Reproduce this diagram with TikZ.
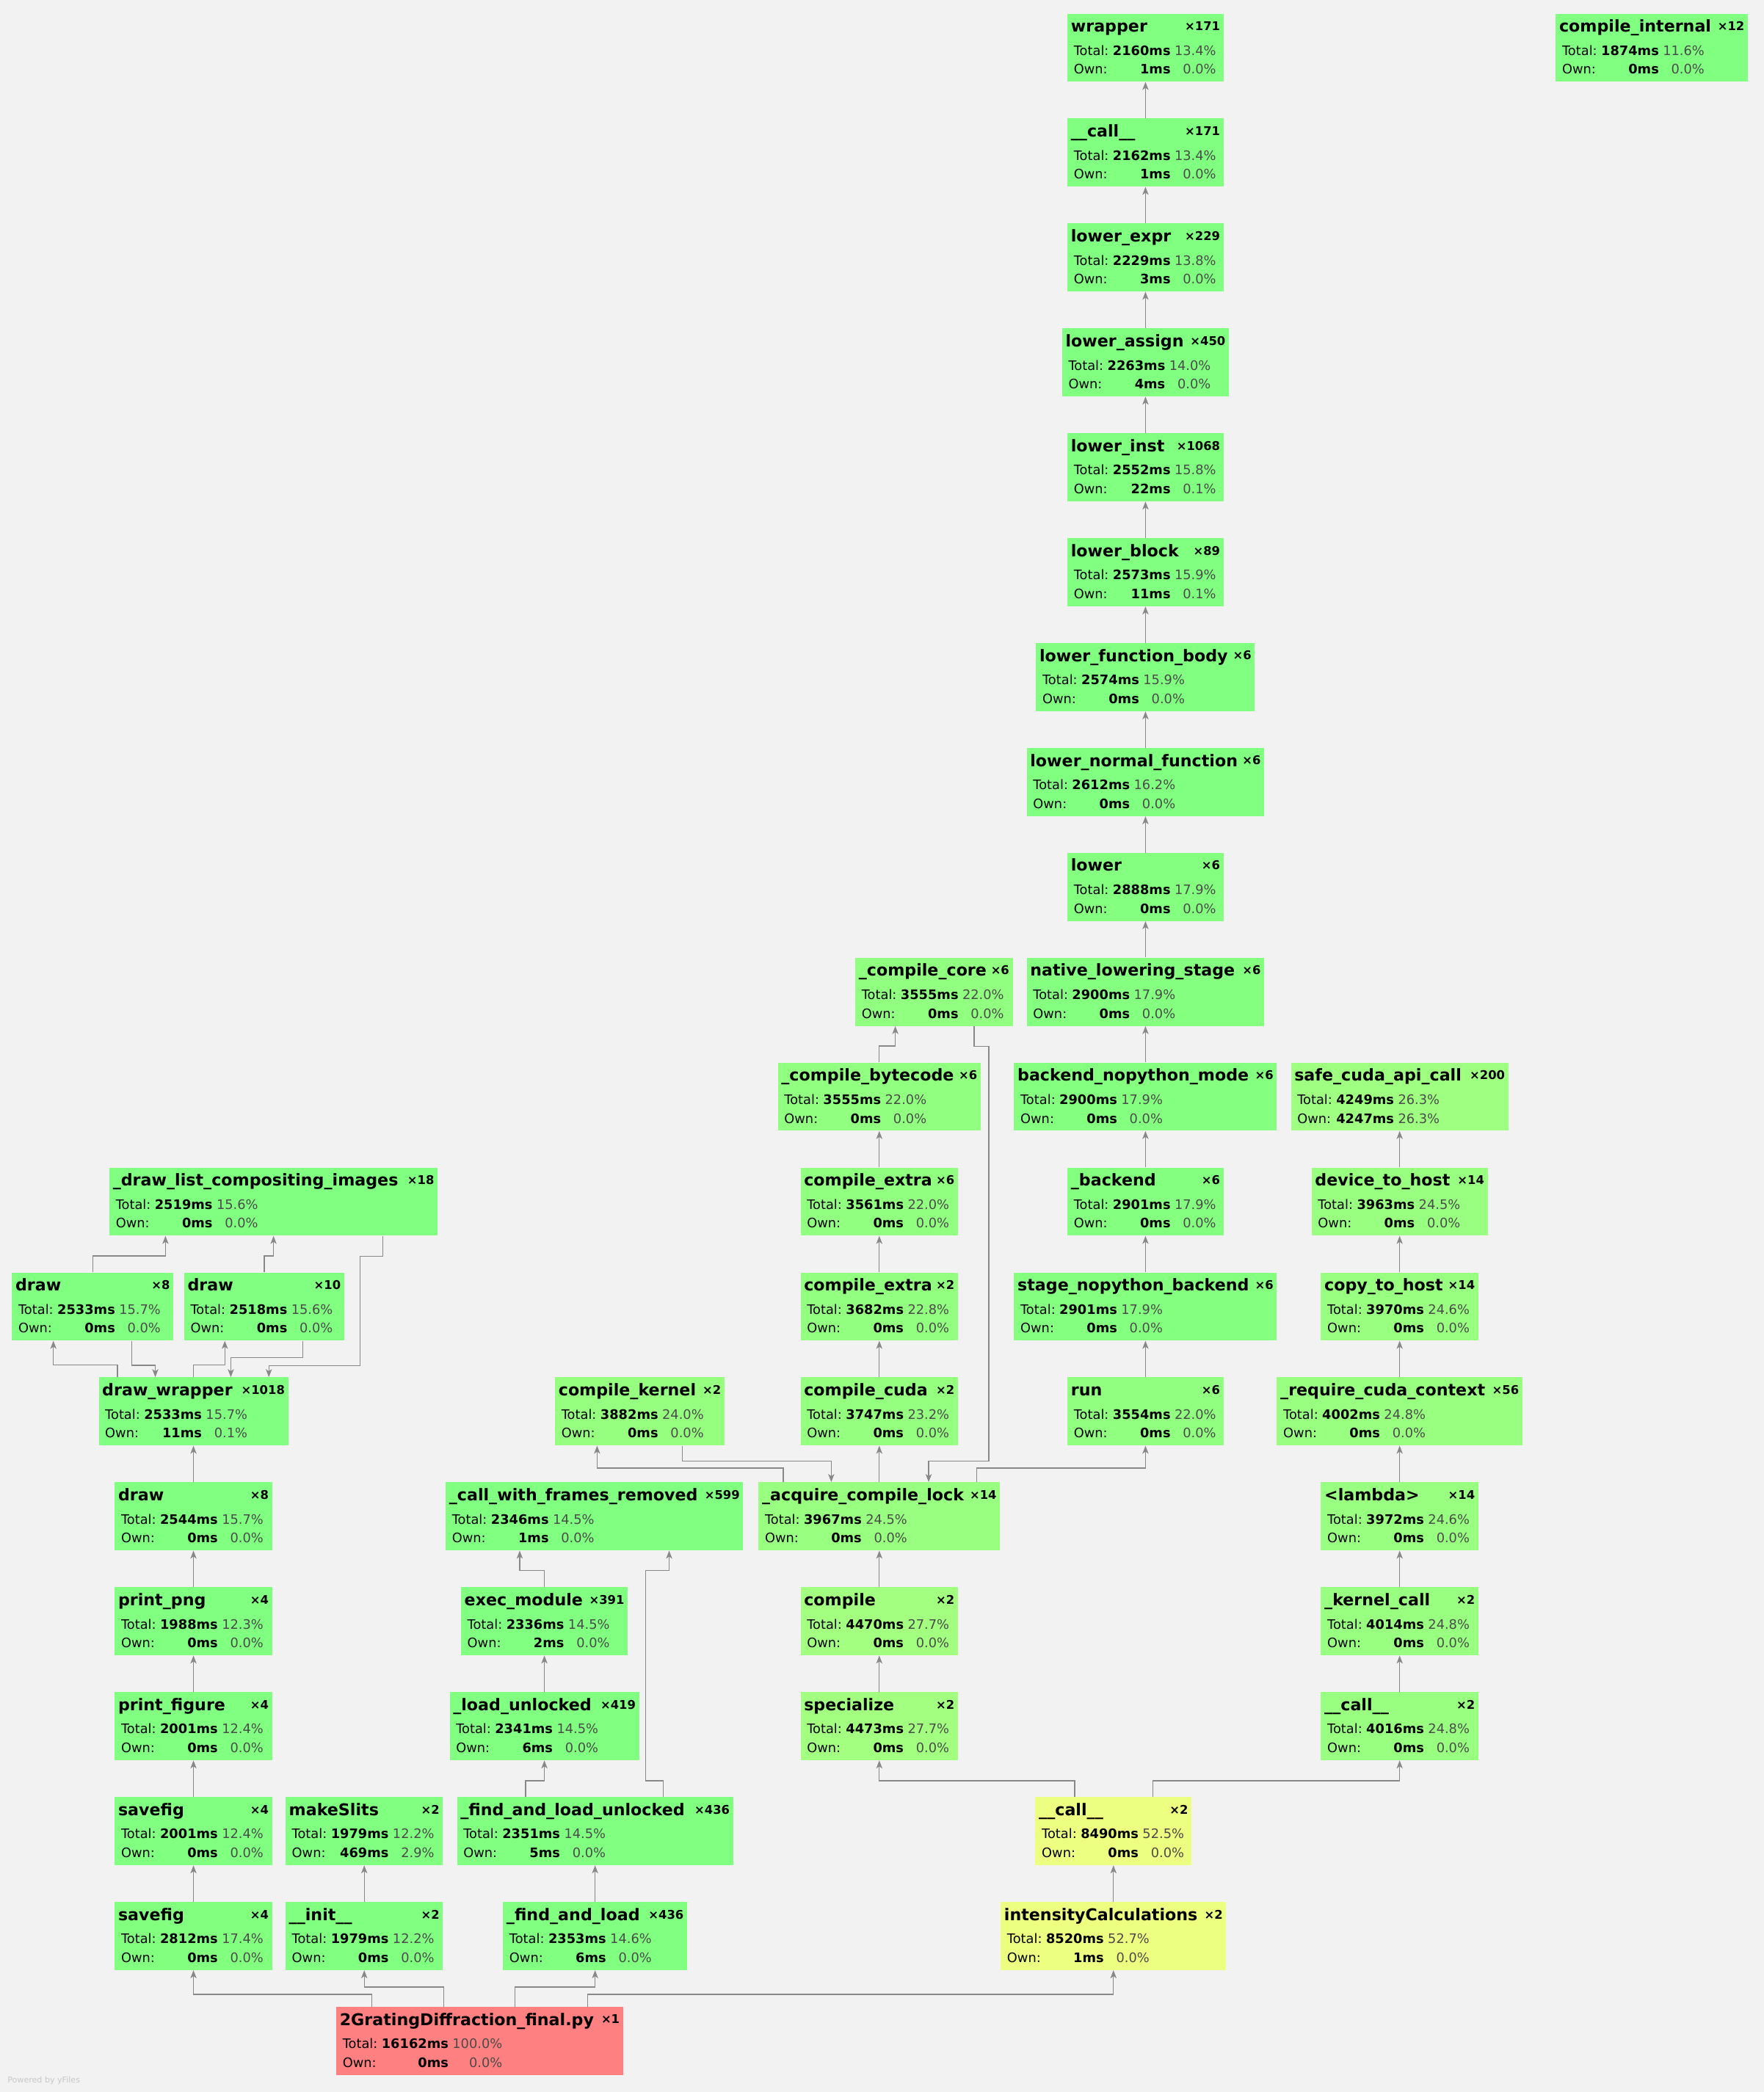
\documentclass[tikz,border=0pt]{standalone}
\usepackage{fontspec}
\setmainfont{DejaVu Sans}
\usepackage{xcolor}
\usetikzlibrary{arrows.meta}

\definecolor{bgc}{HTML}{F2F2F2}
\definecolor{edgec}{HTML}{888888}
\definecolor{pctc}{HTML}{4A4A4A}
\definecolor{hotc}{HTML}{FF8080}
\definecolor{yfc}{HTML}{C8C8C8}

\tikzset{
    pbox/.style={rectangle, minimum height=51pt, inner sep=0pt, draw=none},
    ttl/.style={inner sep=0pt, font=\fontsize{12.2}{14}\selectfont\bfseries},
    cnt/.style={inner sep=0pt, font=\fontsize{9}{11}\selectfont\bfseries},
    dtl/.style={inner sep=0pt, font=\fontsize{9.8}{14.1}\selectfont},
    calledge/.style={draw=edgec, line width=0.75pt, -{Stealth[length=6pt,width=4.6pt,inset=1.6pt]}},
}

% box of one call: name, centre x, row, width, total percent
\newcommand{\pbox}[5]{%
    \pgfmathtruncatemacro{\boxr}{max(128,min(238,128+3*(#5-16.2)))}%
    \definecolor{boxc}{RGB}{\boxr,255,128}%
    \node[pbox, fill=boxc, minimum width=#4pt, anchor=north] (#1) at ({#2},{10+78.63*(#3-1)}) {};}

% texts of one call: name, title, count, total ms, total %, own ms, own %
\newcommand{\ptxt}[7]{%
    \node[ttl, anchor=base west] (#1-name) at ([xshift=2.6pt,yshift=-14pt]#1.north west) {#2};
    \node[cnt, anchor=base east] (#1-count) at ([xshift=-2.6pt,yshift=-12.8pt]#1.north east) {#3};
    \node[dtl, anchor=base west] (#1-stats) at ([xshift=4.8pt,yshift=-31.4pt]#1.north west)
        {\begin{tabular}[t]{@{}l@{\hspace{3pt}}r@{\hspace{3pt}}r@{}}Total: & \textbf{#4ms} & \textcolor{pctc}{#5\%}\\ Own: & \textbf{#6ms} & \textcolor{pctc}{#7\%}\end{tabular}};}

\begin{document}
\begin{tikzpicture}[x=1pt, y=-1pt]
        \fill[bgc] (0,0) rectangle (1322,1568);
        \useasboundingbox (0,0) rectangle (1322,1568);

        % lowering column
        \pbox{wrapper}{858.5}{1}{117}{13.4}
        \pbox{call1}{858.5}{2}{117}{13.4}
        \pbox{lexpr}{858.5}{3}{117}{13.8}
        \pbox{lassign}{858.5}{4}{125}{14.0}
        \pbox{linst}{858.5}{5}{117}{15.8}
        \pbox{lblock}{858.5}{6}{117}{15.9}
        \pbox{lfb}{858.5}{7}{164}{15.9}
        \pbox{lnf}{858.5}{8}{178}{16.2}
        \pbox{lower}{858.5}{9}{117}{17.9}
        \pbox{nls}{858.5}{10}{178}{17.9}
        \pbox{bnm}{858.5}{11}{197}{17.9}
        \pbox{backend}{858.5}{12}{117}{17.9}
        \pbox{snb}{858.5}{13}{197}{17.9}
        \pbox{run}{858.5}{14}{117}{22.0}
        \pbox{cinternal}{1238}{1}{144}{11.6}

        % compile column
        \pbox{ccore}{700}{10}{118}{22.0}
        \pbox{cbyte}{659}{11}{152}{22.0}
        \pbox{cext6}{659}{12}{118}{22.0}
        \pbox{cext2}{659}{13}{118}{22.8}
        \pbox{ccuda}{659}{14}{118}{23.2}
        \pbox{acq}{659}{15}{181}{24.5}
        \pbox{compile}{659}{16}{118}{27.7}
        \pbox{spec}{659}{17}{118}{27.7}
        \pbox{ckern}{479.5}{14}{127}{24.0}

        % cuda column
        \pbox{safe}{1049}{11}{163}{26.3}
        \pbox{d2h}{1049}{12}{132}{24.5}
        \pbox{c2h}{1049}{13}{118}{24.6}
        \pbox{rcc}{1049}{14}{184}{24.8}
        \pbox{lambda}{1049}{15}{118}{24.6}
        \pbox{kcall}{1049}{16}{118}{24.8}
        \pbox{call3}{1049}{17}{118}{24.8}
        \pbox{call2}{834.5}{18}{117}{52.5}
        \pbox{intens}{834.5}{19}{169}{52.7}

        % plotting column
        \pbox{dlist}{205}{12}{246}{15.6}
        \pbox{draw8}{69.5}{13}{121}{15.7}
        \pbox{draw10}{198}{13}{120}{15.6}
        \pbox{dw}{145}{14}{142}{15.7}
        \pbox{draw}{145}{15}{118}{15.7}
        \pbox{ppng}{145}{16}{118}{12.3}
        \pbox{pfig}{145}{17}{118}{12.4}
        \pbox{savefig}{145}{18}{118}{12.4}
        \pbox{savefig2}{145}{19}{118}{17.4}
        \pbox{mslits}{273}{18}{118}{12.2}
        \pbox{init}{273}{19}{118}{12.2}

        % import column
        \pbox{cwfr}{445.5}{15}{223}{14.5}
        \pbox{em}{408}{16}{125}{14.5}
        \pbox{lu}{408}{17}{142}{14.5}
        \pbox{falu}{446}{18}{207}{14.5}
        \pbox{fal}{446}{19}{138}{14.6}
        \node[pbox, fill=hotc, minimum width=215pt, anchor=north] (main) at (359.5,{10+78.63*19}) {};

        \ptxt{wrapper}{wrapper}{×171}{2160}{13.4}{1}{0.0}
        \ptxt{call1}{\_\_call\_\_}{×171}{2162}{13.4}{1}{0.0}
        \ptxt{lexpr}{lower\_expr}{×229}{2229}{13.8}{3}{0.0}
        \ptxt{lassign}{lower\_assign}{×450}{2263}{14.0}{4}{0.0}
        \ptxt{linst}{lower\_inst}{×1068}{2552}{15.8}{22}{0.1}
        \ptxt{lblock}{lower\_block}{×89}{2573}{15.9}{11}{0.1}
        \ptxt{lfb}{lower\_function\_body}{×6}{2574}{15.9}{0}{0.0}
        \ptxt{lnf}{lower\_normal\_function}{×6}{2612}{16.2}{0}{0.0}
        \ptxt{lower}{lower}{×6}{2888}{17.9}{0}{0.0}
        \ptxt{nls}{native\_lowering\_stage}{×6}{2900}{17.9}{0}{0.0}
        \ptxt{bnm}{backend\_nopython\_mode}{×6}{2900}{17.9}{0}{0.0}
        \ptxt{backend}{\_backend}{×6}{2901}{17.9}{0}{0.0}
        \ptxt{snb}{stage\_nopython\_backend}{×6}{2901}{17.9}{0}{0.0}
        \ptxt{run}{run}{×6}{3554}{22.0}{0}{0.0}
        \ptxt{cinternal}{compile\_internal}{×12}{1874}{11.6}{0}{0.0}
        \ptxt{ccore}{\_compile\_core}{×6}{3555}{22.0}{0}{0.0}
        \ptxt{cbyte}{\_compile\_bytecode}{×6}{3555}{22.0}{0}{0.0}
        \ptxt{cext6}{compile\_extra}{×6}{3561}{22.0}{0}{0.0}
        \ptxt{cext2}{compile\_extra}{×2}{3682}{22.8}{0}{0.0}
        \ptxt{ccuda}{compile\_cuda}{×2}{3747}{23.2}{0}{0.0}
        \ptxt{acq}{\_acquire\_compile\_lock}{×14}{3967}{24.5}{0}{0.0}
        \ptxt{compile}{compile}{×2}{4470}{27.7}{0}{0.0}
        \ptxt{spec}{specialize}{×2}{4473}{27.7}{0}{0.0}
        \ptxt{ckern}{compile\_kernel}{×2}{3882}{24.0}{0}{0.0}
        \ptxt{safe}{safe\_cuda\_api\_call}{×200}{4249}{26.3}{4247}{26.3}
        \ptxt{d2h}{device\_to\_host}{×14}{3963}{24.5}{0}{0.0}
        \ptxt{c2h}{copy\_to\_host}{×14}{3970}{24.6}{0}{0.0}
        \ptxt{rcc}{\_require\_cuda\_context}{×56}{4002}{24.8}{0}{0.0}
        \ptxt{lambda}{<lambda>}{×14}{3972}{24.6}{0}{0.0}
        \ptxt{kcall}{\_kernel\_call}{×2}{4014}{24.8}{0}{0.0}
        \ptxt{call3}{\_\_call\_\_}{×2}{4016}{24.8}{0}{0.0}
        \ptxt{call2}{\_\_call\_\_}{×2}{8490}{52.5}{0}{0.0}
        \ptxt{intens}{intensityCalculations}{×2}{8520}{52.7}{1}{0.0}
        \ptxt{dlist}{\_draw\_list\_compositing\_images}{×18}{2519}{15.6}{0}{0.0}
        \ptxt{draw8}{draw}{×8}{2533}{15.7}{0}{0.0}
        \ptxt{draw10}{draw}{×10}{2518}{15.6}{0}{0.0}
        \ptxt{dw}{draw\_wrapper}{×1018}{2533}{15.7}{11}{0.1}
        \ptxt{draw}{draw}{×8}{2544}{15.7}{0}{0.0}
        \ptxt{ppng}{print\_png}{×4}{1988}{12.3}{0}{0.0}
        \ptxt{pfig}{print\_figure}{×4}{2001}{12.4}{0}{0.0}
        \ptxt{savefig}{savefig}{×4}{2001}{12.4}{0}{0.0}
        \ptxt{savefig2}{savefig}{×4}{2812}{17.4}{0}{0.0}
        \ptxt{mslits}{makeSlits}{×2}{1979}{12.2}{469}{2.9}
        \ptxt{init}{\_\_init\_\_}{×2}{1979}{12.2}{0}{0.0}
        \ptxt{cwfr}{\_call\_with\_frames\_removed}{×599}{2346}{14.5}{1}{0.0}
        \ptxt{em}{exec\_module}{×391}{2336}{14.5}{2}{0.0}
        \ptxt{lu}{\_load\_unlocked}{×419}{2341}{14.5}{6}{0.0}
        \ptxt{falu}{\_find\_and\_load\_unlocked}{×436}{2351}{14.5}{5}{0.0}
        \ptxt{fal}{\_find\_and\_load}{×436}{2353}{14.6}{6}{0.0}
        \ptxt{main}{2GratingDiffraction\_final.py}{×1}{16162}{100.0}{0}{0.0}

        \draw[calledge] (call1) -- (wrapper);
        \draw[calledge] (lexpr) -- (call1);
        \draw[calledge] (lassign) -- (lexpr);
        \draw[calledge] (linst) -- (lassign);
        \draw[calledge] (lblock) -- (linst);
        \draw[calledge] (lfb) -- (lblock);
        \draw[calledge] (lnf) -- (lfb);
        \draw[calledge] (lower) -- (lnf);
        \draw[calledge] (nls) -- (lower);
        \draw[calledge] (bnm) -- (nls);
        \draw[calledge] (backend) -- (bnm);
        \draw[calledge] (snb) -- (backend);
        \draw[calledge] (run) -- (snb);

        \draw[calledge] (cbyte.north) -- ++(0,-12.3) -| ([xshift=-29pt]ccore.south);
        \draw[calledge] ([xshift=30pt]ccore.south) -- ++(0,15.3) -- ++(11,0) -- ++(0,310.6) -| ([xshift=37pt]acq.north);
        \draw[calledge] (cext6) -- (cbyte);
        \draw[calledge] (cext2) -- (cext6);
        \draw[calledge] (ccuda) -- (cext2);
        \draw[calledge] (acq) -- (ccuda);
        \draw[calledge] ([xshift=32pt]ckern.south) -- ++(0,11.4) -| ([xshift=-36pt]acq.north);
        \draw[calledge] ([xshift=-72pt]acq.north) -- ++(0,-10.5) -| ([xshift=-32pt]ckern.south);
        \draw[calledge] ([xshift=73pt]acq.north) -- ++(0,-10.5) -| (run.south);
        \draw[calledge] (compile) -- (acq);
        \draw[calledge] (spec) -- (compile);
        \draw[calledge] ([xshift=-29pt]call2.north) -- ++(0,-12) -| (spec.south);
        \draw[calledge] ([xshift=29.5pt]call2.north) -- ++(0,-12) -| (call3.south);
        \draw[calledge] (intens) -- (call2);

        \draw[calledge] (d2h) -- (safe);
        \draw[calledge] (c2h) -- (d2h);
        \draw[calledge] (rcc) -- (c2h);
        \draw[calledge] (lambda) -- (rcc);
        \draw[calledge] (kcall) -- (lambda);
        \draw[calledge] (call3) -- (kcall);

        \draw[calledge] ([xshift=81pt]main.north) -- ++(0,-9.2) -| (intens.south);
        \draw[calledge] ([xshift=26.5pt]main.north) -- ++(0,-14.7) -| (fal.south);
        \draw[calledge] ([xshift=-27pt]main.north) -- ++(0,-14.7) -| (init.south);
        \draw[calledge] ([xshift=-81pt]main.north) -- ++(0,-9.2) -| (savefig2.south);

        \draw[calledge] (savefig2) -- (savefig);
        \draw[calledge] (savefig) -- (pfig);
        \draw[calledge] (pfig) -- (ppng);
        \draw[calledge] (ppng) -- (draw);
        \draw[calledge] (draw) -- (dw);
        \draw[calledge] (init) -- (mslits);

        \draw[calledge] ([xshift=-57pt]dw.north) -- ++(0,-9.2) -| ([xshift=-29.5pt]draw8.south);
        \draw[calledge] ([xshift=29.3pt]draw8.south) -- ++(0,18.4) -| ([xshift=-28.6pt]dw.north);
        \draw[calledge] (dw.north) -- ++(0,-9.2) -| ([xshift=-29.5pt]draw10.south);
        \draw[calledge] ([xshift=29pt]draw10.south) -- ++(0,12.5) -| ([xshift=28pt]dw.north);
        \draw[calledge] ([xshift=82pt]dlist.south) -- ++(0,15.4) -- ++(-17,0) -- ++(0,81.7) -| ([xshift=56.5pt]dw.north);
        \draw[calledge] (draw8.north) -- ++(0,-12.3) -| ([xshift=-81pt]dlist.south);
        \draw[calledge] (draw10.north) -- ++(0,-12.3) -| (dlist.south);

        \draw[calledge] (fal) -- (falu);
        \draw[calledge] ([xshift=-52pt]falu.north) -- ++(0,-12) -| (lu.south);
        \draw[calledge] ([xshift=51pt]falu.north) -- ++(0,-12) -- ++(-13,0) -- ++(0,-157.7) -| ([xshift=56pt]cwfr.south);
        \draw[calledge] (lu) -- (em);
        \draw[calledge] (em.north) -- ++(0,-12.4) -| ([xshift=-56pt]cwfr.south);

        \node[anchor=base west, inner sep=0pt, font=\fontsize{6.1}{7}\selectfont, text=yfc] (powered) at (5.5,1561) {Powered by yFiles};
\end{tikzpicture}
\end{document}
